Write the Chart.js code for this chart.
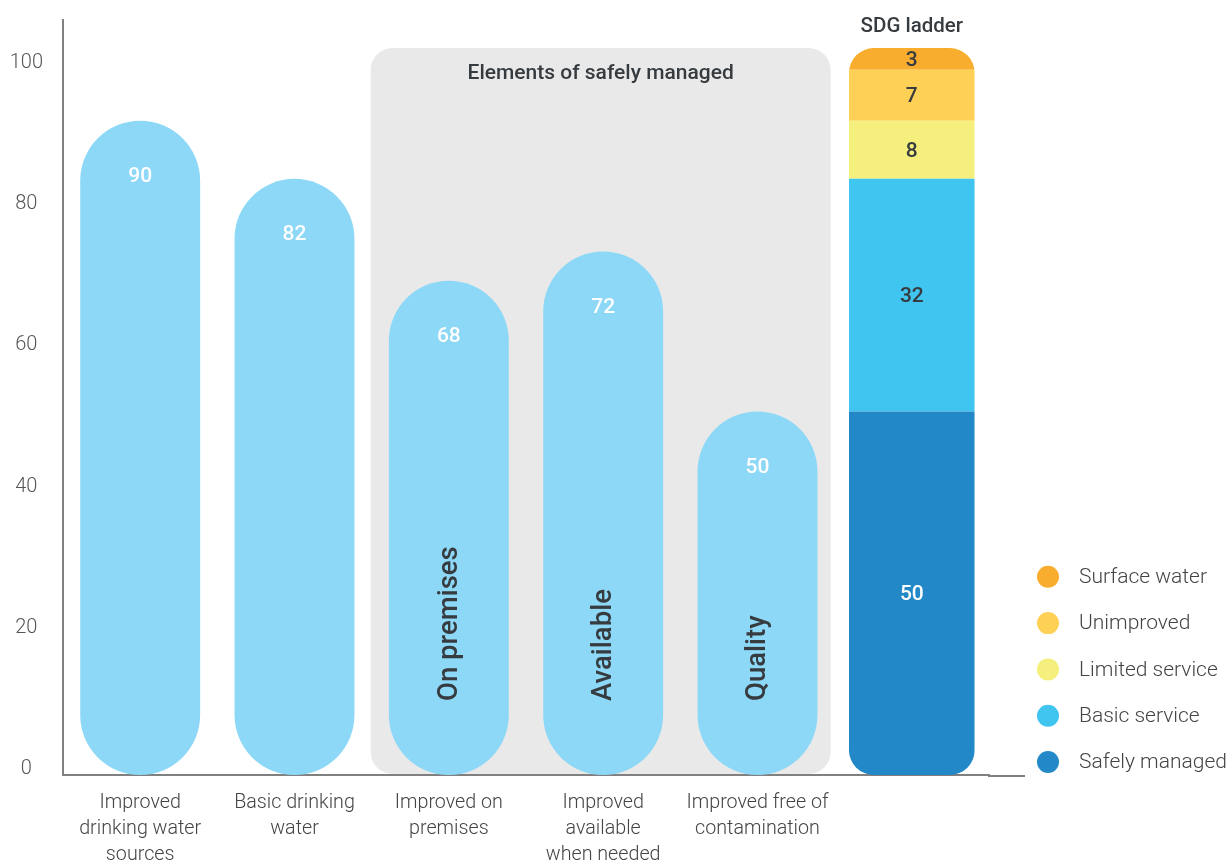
<!DOCTYPE html>
<html lang="en">
<head>
    <meta charset="UTF-8">
    <title>Drinking water: elements of safely managed and SDG ladder</title>
    <script src="https://cdn.jsdelivr.net/npm/chart.js"></script>
    <style>
        body { margin: 0; background: #fff; }
        .wrapper { width: 1227px; height: 861px; position: relative; }
    </style>
</head>
<body>
    <div class="wrapper">
        <canvas id="waterChart"></canvas>
    </div>

    <script>
        // categories (last one is the SDG ladder column, no axis label)
        const categories = [
            ['Improved', 'drinking water', 'sources'],
            ['Basic drinking', 'water'],
            ['Improved on', 'premises'],
            ['Improved', 'available', 'when needed'],
            ['Improved free of', 'contamination'],
            ''
        ];
        const barValues = [90, 82, 68, 72, 50, null];
        const insideLabels = ['', '', 'On premises', 'Available', 'Quality', ''];

        // SDG ladder, bottom to top
        const ladderNames = ['Safely managed', 'Basic service', 'Limited service', 'Unimproved', 'Surface water'];
        const ladderValues = [50, 32, 8, 7, 3];
        const ladderColors = ['#2288c8', '#40c4f0', '#f5ef7d', '#fed056', '#f9ad2f'];
        const ladderTextColors = ['#ffffff', '#363b3f', '#363b3f', '#363b3f', '#363b3f'];

        const yTickValues = [0, 20, 40, 60, 80, 100];

        const barBlue = '#8dd8f7';
        const darkText = '#363b3f';
        const axisGrey = '#808080';
        const sdgIndex = categories.length - 1;

        const datasets = [{
            label: 'Share',
            data: barValues,
            backgroundColor: barBlue,
            borderRadius: 60,
            borderSkipped: false,
            barPercentage: 0.777,
            categoryPercentage: 1
        }];
        ladderNames.forEach((name, i) => {
            datasets.push({
                label: name,
                data: categories.map((c, k) => k === sdgIndex ? ladderValues[i] : null),
                backgroundColor: ladderColors[i],
                borderWidth: 0,
                barPercentage: 0.815,
                categoryPercentage: 1
            });
        });

        function roundRect(ctx, x, y, w, h, r) {
            ctx.beginPath();
            ctx.moveTo(x + r, y);
            ctx.lineTo(x + w - r, y);
            ctx.arcTo(x + w, y, x + w, y + r, r);
            ctx.lineTo(x + w, y + h - r);
            ctx.arcTo(x + w, y + h, x + w - r, y + h, r);
            ctx.lineTo(x + r, y + h);
            ctx.arcTo(x, y + h, x, y + h - r, r);
            ctx.lineTo(x, y + r);
            ctx.arcTo(x, y, x + r, y, r);
            ctx.closePath();
        }

        const decorations = {
            id: 'decorations',
            beforeDatasetsDraw(chart) {
                const {ctx, chartArea, scales} = chart;
                const x = scales.x, y = scales.y;
                const half = (x.getPixelForValue(1) - x.getPixelForValue(0)) / 2;
                const left = x.getPixelForValue(2) - half - 1;
                const right = x.getPixelForValue(4) + half - 4;
                const top = y.getPixelForValue(100);
                ctx.save();
                ctx.fillStyle = '#e9e9e9';
                roundRect(ctx, left, top, right - left, chartArea.bottom - top - 1, 22);
                ctx.fill();
                ctx.fillStyle = darkText;
                ctx.font = '500 21px Roboto';
                ctx.textAlign = 'center';
                ctx.textBaseline = 'middle';
                ctx.fillText('Elements of safely managed', (left + right) / 2, top + 26);
                ctx.restore();
            },
            beforeDatasetDraw(chart, args) {
                if (args.index === 0) return;
                const {ctx, scales} = chart;
                const bar = chart.getDatasetMeta(1).data[sdgIndex];
                const top = scales.y.getPixelForValue(100);
                ctx.save();
                roundRect(ctx, bar.x - bar.width / 2, top, bar.width, bar.base - top, 25);
                ctx.clip();
            },
            afterDatasetDraw(chart, args) {
                if (args.index === 0) return;
                chart.ctx.restore();
            },
            afterDraw(chart) {
                const {ctx, chartArea} = chart;
                ctx.save();
                ctx.textAlign = 'center';
                ctx.textBaseline = 'middle';

                // value labels and vertical labels in the main bars
                chart.getDatasetMeta(0).data.forEach((bar, i) => {
                    if (barValues[i] === null) return;
                    ctx.fillStyle = '#ffffff';
                    ctx.font = '500 21px Roboto';
                    ctx.fillText(barValues[i], bar.x, bar.y + 56);
                    if (insideLabels[i]) {
                        ctx.save();
                        ctx.translate(bar.x, bar.base - 74);
                        ctx.rotate(-Math.PI / 2);
                        ctx.textAlign = 'left';
                        ctx.fillStyle = darkText;
                        ctx.font = '500 27.5px Roboto';
                        ctx.fillText(insideLabels[i], 0, 1);
                        ctx.restore();
                    }
                });

                // SDG ladder segment labels
                ladderValues.forEach((v, i) => {
                    const bar = chart.getDatasetMeta(i + 1).data[sdgIndex];
                    ctx.fillStyle = ladderTextColors[i];
                    ctx.font = '500 21px Roboto';
                    ctx.fillText(v, bar.x, (bar.y + bar.base) / 2 + 2);
                });

                const sdgBar = chart.getDatasetMeta(1).data[sdgIndex];
                ctx.fillStyle = darkText;
                ctx.font = '500 20.5px Roboto';
                ctx.fillText('SDG ladder', sdgBar.x, 27);

                // x axis line runs on a little past the plot
                ctx.strokeStyle = axisGrey;
                ctx.lineWidth = 2;
                ctx.beginPath();
                ctx.moveTo(chartArea.right - 1, chartArea.bottom + 1);
                ctx.lineTo(chartArea.right + 36, chartArea.bottom + 1);
                ctx.stroke();

                // legend, top item is the top of the ladder
                ctx.textAlign = 'left';
                ctx.font = '300 21px Roboto';
                for (let i = 0; i < ladderNames.length; i++) {
                    const cy = chartArea.bottom - 13 - i * 46.3;
                    ctx.fillStyle = ladderColors[i];
                    ctx.beginPath();
                    ctx.arc(chartArea.right + 59, cy, 11, 0, Math.PI * 2);
                    ctx.fill();
                    ctx.fillStyle = '#444';
                    ctx.fillText(ladderNames[i], chartArea.right + 90, cy + 1);
                }
                ctx.restore();
            }
        };

        const ctx = document.getElementById('waterChart').getContext('2d');
        const waterChart = new Chart(ctx, {
            type: 'bar',
            data: {
                labels: categories,
                datasets: datasets
            },
            plugins: [decorations],
            options: {
                responsive: true,
                maintainAspectRatio: false,
                animation: false,
                layout: {
                    padding: { top: 20, right: 238, left: 0, bottom: 0 }
                },
                scales: {
                    x: {
                        stacked: true,
                        grid: { display: false },
                        border: { color: axisGrey, width: 2 },
                        ticks: {
                            color: '#444',
                            padding: 7,
                            maxRotation: 0,
                            font: { family: 'Roboto', size: 19.7, weight: '300', lineHeight: 1.32 }
                        },
                        afterFit: scale => { scale.height = 86; }
                    },
                    y: {
                        stacked: true,
                        display: false,
                        min: 0,
                        max: 103.85
                    },
                    yt: {
                        position: 'left',
                        min: -0.85,
                        max: 106.08,
                        grid: { display: false, tickLength: 12 },
                        border: { color: axisGrey, width: 2 },
                        afterBuildTicks: scale => {
                            scale.ticks = yTickValues.map(v => ({ value: v }));
                        },
                        ticks: {
                            color: '#555',
                            crossAlign: 'center',
                            padding: 8,
                            font: { family: 'Roboto', size: 20, weight: '300' }
                        },
                        afterFit: scale => { scale.width = 63; }
                    }
                },
                plugins: {
                    legend: { display: false },
                    tooltip: { enabled: false }
                }
            }
        });
    </script>
</body>
</html>
